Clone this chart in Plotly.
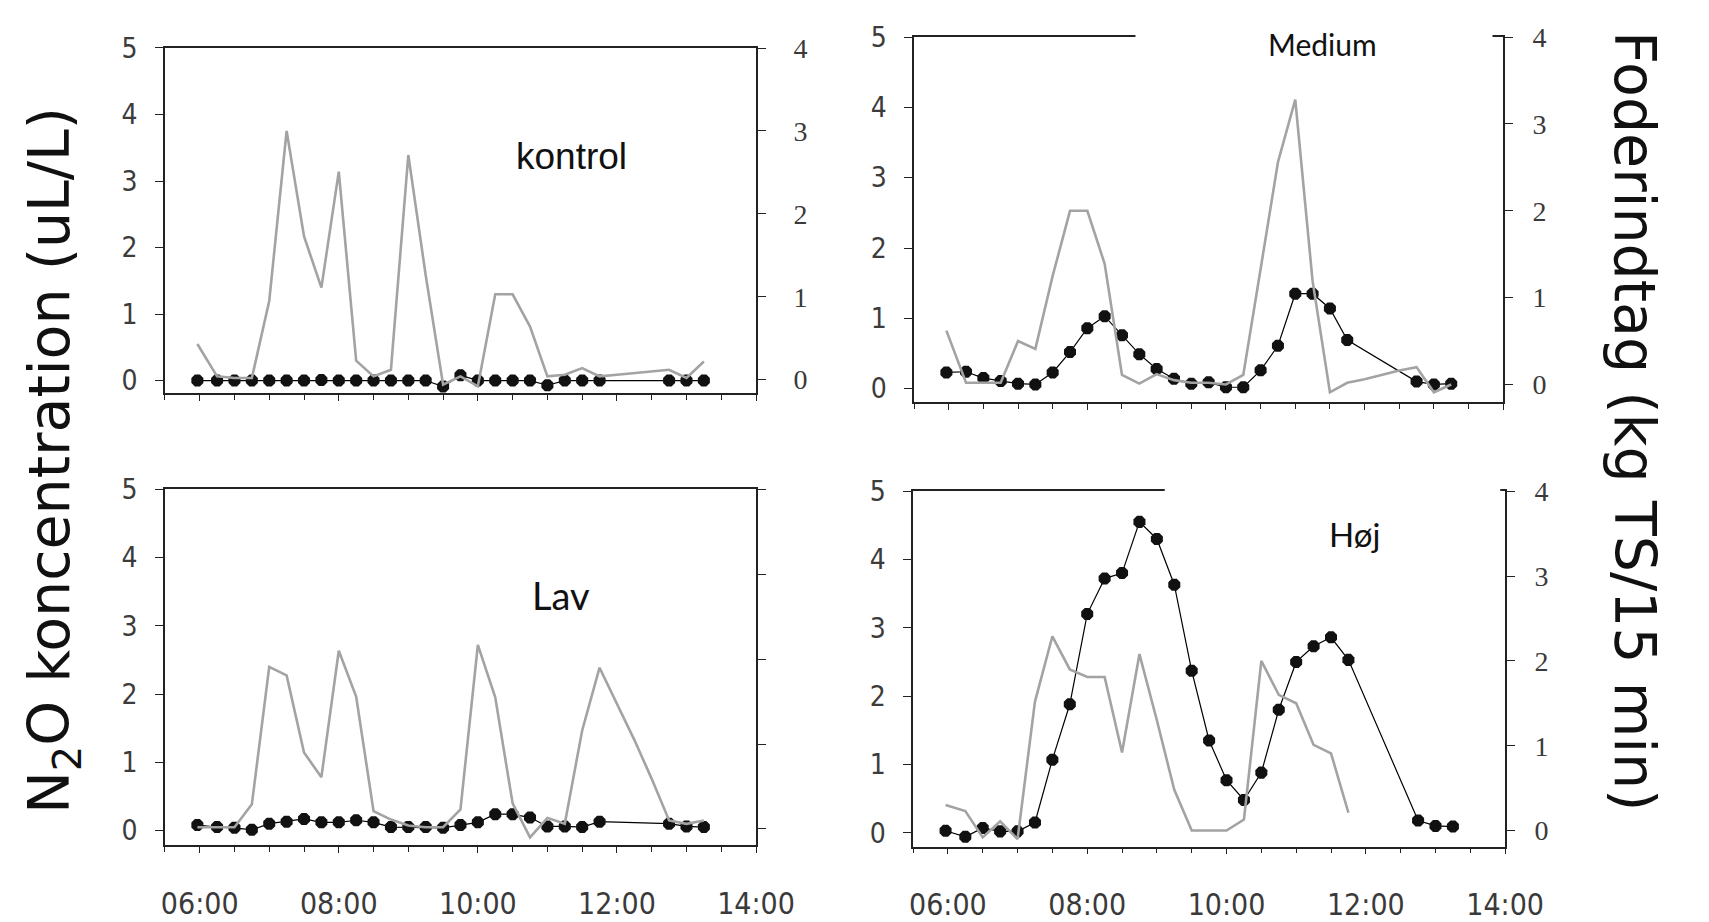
import plotly.graph_objects as go

W, H = 1709, 922
DAY = "2020-01-01 "

# ---------------- data ----------------
n2o_times = ["05:58", "06:15", "06:30", "06:45", "07:00", "07:15", "07:30", "07:45",
             "08:00", "08:15", "08:30", "08:45", "09:00", "09:15", "09:30", "09:45",
             "10:00", "10:15", "10:30", "10:45", "11:00", "11:15", "11:30", "11:45",
             "12:45", "13:00", "13:15"]

feed_times = ["05:58", "06:15", "06:30", "06:45", "07:00", "07:15", "07:30", "07:45",
              "08:00", "08:15", "08:30", "08:45", "09:00", "09:15", "09:30", "09:45",
              "10:00", "10:15", "10:30", "10:45", "11:00", "11:15", "11:30", "11:45",
              "12:00", "12:15", "12:30", "12:45", "13:00", "13:15"]

feed_times_hoej = feed_times[:24]

n2o_kontrol = [0.0, 0.0, 0.0, 0.0, 0.0, 0.0, 0.0, 0.01, 0.0, 0.0, 0.0, 0.0, 0.0, 0.0,
               -0.09, 0.08, 0.0, 0.0, 0.0, 0.0, -0.07, 0.0, 0.0, 0.0, 0.0, 0.0, 0.0]
feed_kontrol = [0.43, 0.04, 0.02, 0.02, 0.95, 3.0, 1.73, 1.11, 2.51, 0.23, 0.04, 0.12,
                2.71, 1.26, -0.06, 0.04, -0.08, 1.03, 1.03, 0.64, 0.04, 0.06, 0.14, 0.04,
                0.06, 0.08, 0.1, 0.12, 0.02, 0.22]

n2o_medium = [0.23, 0.24, 0.15, 0.11, 0.07, 0.06, 0.23, 0.52, 0.86, 1.03, 0.76, 0.49,
              0.28, 0.14, 0.07, 0.09, 0.02, 0.02, 0.26, 0.61, 1.35, 1.35, 1.14, 0.69,
              0.1, 0.06, 0.07]
feed_medium = [0.62, 0.02, 0.02, 0.02, 0.5, 0.41, 1.25, 2.0, 2.0, 1.39, 0.11, 0.01,
               0.12, 0.05, 0.02, 0.02, 0.0, 0.11, 1.33, 2.56, 3.28, 1.19, -0.09, 0.02,
               0.06, 0.11, 0.16, 0.2, -0.09, 0.0]

n2o_lav = [0.08, 0.05, 0.04, 0.01, 0.1, 0.13, 0.17, 0.12, 0.12, 0.15, 0.12, 0.05,
           0.05, 0.05, 0.04, 0.08, 0.12, 0.24, 0.24, 0.19, 0.06, 0.06, 0.05, 0.13,
           0.1, 0.06, 0.05]
feed_lav = [0.02, 0.02, 0.02, 0.29, 1.91, 1.81, 0.9, 0.61, 2.1, 1.56, 0.21, 0.11,
            0.04, 0.02, 0.02, 0.23, 2.17, 1.55, 0.3, -0.1, 0.13, 0.06, 1.16, 1.9,
            1.47, 1.05, 0.59, 0.1, 0.06, 0.1]

n2o_hoej = [0.03, -0.06, 0.07, 0.02, 0.02, 0.15, 1.07, 1.88, 3.2, 3.72, 3.8, 4.55,
            4.3, 3.63, 2.37, 1.35, 0.77, 0.48, 0.88, 1.8, 2.5, 2.73, 2.86, 2.53,
            0.18, 0.1, 0.09]
feed_hoej = [0.3, 0.23, -0.08, 0.11, -0.1, 1.52, 2.29, 1.9, 1.81, 1.81, 0.92, 2.08,
             1.3, 0.48, 0.0, 0.0, 0.0, 0.13, 2.0, 1.6, 1.5, 1.01, 0.91, 0.21]

panel_names = ["kontrol", "Medium", "Lav", "Høj"]
x_tick_labels = ["06:00", "08:00", "10:00", "12:00", "14:00"]
left_ticks = [0, 1, 2, 3, 4, 5]
right_ticks = [0, 1, 2, 3, 4]

left_title = "N<sub>2</sub>O koncentration (uL/L)"
right_title = "Foderindtag (kg TS/15 min)"

# ---------------- layout geometry (pixels) ----------------
# (x0, x1, ytop, ybottom)
boxes = [
    (166, 772, 33, 389),
    (934, 1538, 21.7, 398.3),
    (166, 772, 488.3, 855),
    (933, 1540, 490, 856.7),
]
left_ranges = [[-0.19, 5.0], [-0.193, 5.0], [-0.213, 5.0], [-0.204, 5.0]]
right_ranges = [[-0.163, 4.001], [-0.204, 4.001], [-0.19, 4.001], [-0.19, 4.001]]

series = [
    (n2o_kontrol, feed_kontrol, feed_times),
    (n2o_medium, feed_medium, feed_times),
    (n2o_lav, feed_lav, feed_times),
    (n2o_hoej, feed_hoej, feed_times_hoej),
]

fig = go.Figure()
layout = dict(
    width=W, height=H, autosize=False,
    margin=dict(l=0, r=0, t=0, b=0, pad=0),
    paper_bgcolor="white", plot_bgcolor="white",
    showlegend=False,
)

COND = "DejaVu Sans Condensed, Liberation Sans Narrow, Liberation Sans"
tick_font = dict(family=COND, size=28, color="#3c3c3c")
right_font = dict(family="Liberation Serif, Times New Roman, serif", size=28, color="#3a3a3a")

for i, (box, (n2o, feed, ftimes)) in enumerate(zip(boxes, series)):
    x0, x1, yt, yb = box
    xa = "x" if i == 0 else f"x{i+1}"
    yl_idx = 2 * i + 1
    yr_idx = 2 * i + 2
    yl = "y" if yl_idx == 1 else f"y{yl_idx}"
    yr = f"y{yr_idx}"

    fig.add_trace(go.Scatter(
        x=[DAY + t for t in n2o_times], y=n2o, xaxis=xa, yaxis=yl,
        mode="lines+markers",
        line=dict(color="black", width=1.2),
        marker=dict(symbol="octagon", size=13, color="#111111",
                    line=dict(color="#111111", width=0)),
        cliponaxis=False,
    ))
    fig.add_trace(go.Scatter(
        x=[DAY + t for t in ftimes], y=feed, xaxis=xa, yaxis=yr,
        mode="lines",
        line=dict(color="#a3a3a3", width=2.6),
    ))

    bottom = i >= 2
    xkey = "xaxis" if i == 0 else f"xaxis{i+1}"
    layout[xkey] = dict(
        domain=[x0 / W, x1 / W],
        anchor=yl,
        type="date",
        range=[DAY + "05:30", DAY + "14:00"],
        tickmode="array",
        tickvals=[DAY + t for t in x_tick_labels],
        ticktext=x_tick_labels,
        showticklabels=bottom,
        tickangle=0,
        ticks="outside", ticklen=6, tickwidth=1.2, tickcolor="#222",
        minor=dict(dtick=1800000, tick0=DAY + "06:00", ticks="outside",
                   ticklen=5, tickwidth=1.2, tickcolor="#222"),
        showline=True, linecolor="#222", linewidth=1.5,
        mirror=True,
        showgrid=False, zeroline=False,
        tickfont=dict(family=COND, size=30, color="#3a3a3a"),
        ticklabelstandoff=25,
        fixedrange=True,
    )
    ylkey = "yaxis" if yl_idx == 1 else f"yaxis{yl_idx}"
    layout[ylkey] = dict(
        domain=[1 - yb / H, 1 - yt / H],
        anchor=xa,
        range=left_ranges[i],
        tickmode="array", tickvals=left_ticks,
        ticks="outside", ticklen=8, tickwidth=1.2, tickcolor="#222",
        showline=True, linecolor="#222", linewidth=1.5,
        showgrid=False, zeroline=False,
        tickfont=tick_font,
        ticklabelstandoff=12,
    )
    layout[f"yaxis{yr_idx}"] = dict(
        overlaying=yl,
        anchor=xa,
        side="right",
        range=right_ranges[i],
        tickmode="array", tickvals=right_ticks,
        ticks="outside", ticklen=8, tickwidth=1.2, tickcolor="#222",
        showline=True, linecolor="#222", linewidth=1.5,
        showgrid=False, zeroline=False,
        showticklabels=(i != 2),
        tickfont=right_font,
        ticklabelstandoff=22 if i == 0 else 14,
    )

# white patches where the source image has blanked-out title areas
shapes = [
    dict(type="rect", xref="paper", yref="paper",
         x0=1161 / W, x1=1527 / W, y0=1 - 30 / H, y1=1 - 12 / H,
         fillcolor="white", line=dict(width=0), layer="above"),
    dict(type="rect", xref="paper", yref="paper",
         x0=1191 / W, x1=1535 / W, y0=1 - 498 / H, y1=1 - 482 / H,
         fillcolor="white", line=dict(width=0), layer="above"),
]
layout["shapes"] = shapes

ann = []
title_pos = [(583, 145, "Liberation Sans", 37), (1353, 29, "Lato", 30),
             (572, 597, "Lato", 38), (1386, 534, "Lato", 33)]
for name, (px, py, fam, sz) in zip(panel_names, title_pos):
    ann.append(dict(x=px / W, y=1 - py / H, xref="paper", yref="paper",
                    text=name, showarrow=False, xanchor="center", yanchor="middle",
                    font=dict(family=fam, size=sz, color="#111")))
ann.append(dict(x=51 / W, y=1 - 458 / H, xref="paper", yref="paper",
                text=left_title, showarrow=False, textangle=-90,
                xanchor="center", yanchor="middle",
                font=dict(family="DejaVu Sans", size=57, color="#111")))
ann.append(dict(x=1.0, y=1 - 418 / H, xref="paper", yref="paper",
                text=right_title, showarrow=False, textangle=90,
                xanchor="right", yanchor="middle",
                font=dict(family="DejaVu Sans", size=57, color="#111")))
layout["annotations"] = ann

fig.update_layout(**layout)
fig.write_html(
    "out.html",
    config={"displayModeBar": False},
    post_script="document.body.style.margin='0';document.body.style.overflow='hidden';",
)
